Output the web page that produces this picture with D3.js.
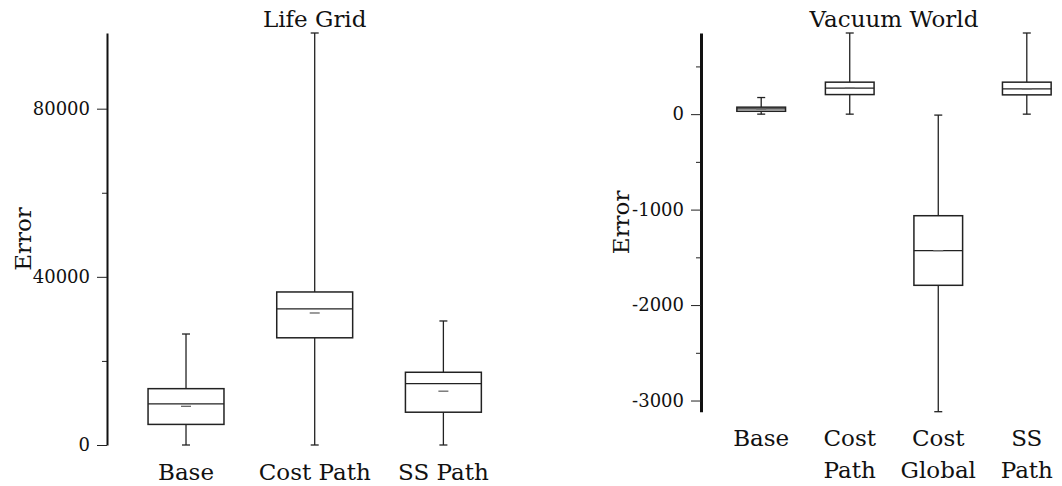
<!DOCTYPE html>
<html>
<head>
<meta charset="utf-8">
<script src="https://cdn.jsdelivr.net/npm/d3@7"></script>
<style>
  html, body { margin: 0; padding: 0; background: #fff; }
  svg { display: block; font-family: "DejaVu Serif", serif; }
</style>
</head>
<body>
<svg id="chart" width="1062" height="486"></svg>
<script>
// Life Grid: error distribution per method
const lifeCategories = ["Base", "Cost Path", "SS Path"];
const lifeMin    = [0, 0, 0];
const lifeQ1     = [4900, 25500, 7800];
const lifeMedian = [9800, 32400, 14600];
const lifeQ3     = [13400, 36400, 17300];
const lifeMax    = [26400, 98000, 29500];
const lifeMean   = [9200, 31400, 12800];
const lifeMajorTicks = [0, 40000, 80000];
const lifeMinorTicks = [20000, 60000];

// Vacuum World: error distribution per method
const vacCategories = ["Base", "Cost Path", "Cost Global", "SS Path"];
const vacLabelLines = [["Base"], ["Cost", "Path"], ["Cost", "Global"], ["SS", "Path"]];
const vacMin    = [0, 0, -3117, 0];
const vacQ1     = [30, 205, -1793, 202];
const vacMedian = [55, 272, -1430, 265];
const vacQ3     = [73, 335, -1064, 335];
const vacMax    = [174, 850, -10, 850];
const vacMean   = [55, 272, -1430, 265];
const vacMajorTicks = [0, -1000, -2000, -3000];
const vacMinorTicks = [500, -500, -1500, -2500];

const svg = d3.select("#chart");

function drawPanel(cfg) {
  const g = svg.append("g");
  const x = d3.scalePoint().domain(cfg.categories)
    .range([cfg.left, cfg.right]).padding(cfg.padding);
  const y = d3.scaleLinear().domain(cfg.domain).range([cfg.bottom, cfg.top]);
  const boxW = x.step() * cfg.boxFrac;
  const capW = 8;

  // minor ticks
  g.append("g")
    .attr("transform", `translate(${cfg.left},0)`)
    .call(d3.axisLeft(y).tickValues(cfg.minor).tickSize(5).tickSizeOuter(0).tickFormat(""))
    .call(a => a.select(".domain").remove())
    .call(a => a.selectAll("line").attr("stroke", "#222").attr("stroke-width", 1));

  // major ticks with labels and the axis line (plain hyphen for negatives)
  g.append("g")
    .attr("transform", `translate(${cfg.left},0)`)
    .call(d3.axisLeft(y).tickValues(cfg.major).tickSize(10).tickSizeOuter(0).tickPadding(7).tickFormat(d => String(d)))
    .call(a => a.select(".domain").attr("stroke", "#111").attr("stroke-width", cfg.axisWidth))
    .call(a => a.selectAll(".tick line").attr("stroke", "#222").attr("stroke-width", 1))
    .call(a => a.selectAll("text").attr("font-family", "DejaVu Serif").attr("font-size", 18).attr("fill", "#111"));

  const data = cfg.categories.map((c, i) => ({
    c, min: cfg.min[i], q1: cfg.q1[i], med: cfg.median[i], q3: cfg.q3[i], max: cfg.max[i], mean: cfg.mean[i]
  }));

  const box = g.selectAll("g.box").data(data).join("g").attr("class", "box");
  const stroke = "#222";

  // whiskers
  box.append("line")
    .attr("x1", d => x(d.c)).attr("x2", d => x(d.c))
    .attr("y1", d => y(d.q3)).attr("y2", d => y(d.max))
    .attr("stroke", stroke).attr("stroke-width", 1.3);
  box.append("line")
    .attr("x1", d => x(d.c)).attr("x2", d => x(d.c))
    .attr("y1", d => y(d.q1)).attr("y2", d => y(d.min))
    .attr("stroke", stroke).attr("stroke-width", 1.3);
  // caps
  box.append("line")
    .attr("x1", d => x(d.c) - capW / 2).attr("x2", d => x(d.c) + capW / 2)
    .attr("y1", d => y(d.max)).attr("y2", d => y(d.max))
    .attr("stroke", stroke).attr("stroke-width", 1.3);
  box.append("line")
    .attr("x1", d => x(d.c) - capW / 2).attr("x2", d => x(d.c) + capW / 2)
    .attr("y1", d => y(d.min)).attr("y2", d => y(d.min))
    .attr("stroke", stroke).attr("stroke-width", 1.3);
  // box
  box.append("rect")
    .attr("x", d => x(d.c) - boxW / 2).attr("width", boxW)
    .attr("y", d => y(d.q3)).attr("height", d => y(d.q1) - y(d.q3))
    .attr("fill", "#fff").attr("stroke", stroke).attr("stroke-width", 1.5);
  // median
  box.append("line")
    .attr("x1", d => x(d.c) - boxW / 2).attr("x2", d => x(d.c) + boxW / 2)
    .attr("y1", d => y(d.med)).attr("y2", d => y(d.med))
    .attr("stroke", stroke).attr("stroke-width", 1.3);
  // mean marker
  box.append("line")
    .attr("x1", d => x(d.c) - 5).attr("x2", d => x(d.c) + 5)
    .attr("y1", d => y(d.mean)).attr("y2", d => y(d.mean))
    .attr("stroke", "#666").attr("stroke-width", 1.3);

  // category labels
  const lab = g.selectAll("text.cat").data(cfg.categories).join("text")
    .attr("class", "cat")
    .attr("x", d => x(d))
    .attr("y", cfg.bottom + cfg.labelOffset)
    .attr("text-anchor", "middle")
    .attr("font-size", 23).attr("fill", "#111");
  lab.each(function(d, i) {
    const lines = cfg.labelLines ? cfg.labelLines[i] : [d];
    d3.select(this).selectAll("tspan").data(lines).join("tspan")
      .attr("x", x(d))
      .attr("dy", (t, j) => j === 0 ? 0 : 32)
      .text(t => t);
  });

  // title
  g.append("text")
    .attr("x", (cfg.left + cfg.right) / 2)
    .attr("y", 27)
    .attr("text-anchor", "middle")
    .attr("font-size", 23).attr("fill", "#111")
    .text(cfg.title);

  // y label
  g.append("text")
    .attr("transform", `translate(${cfg.yLabelX},${(cfg.top + cfg.bottom) / 2}) rotate(-90)`)
    .attr("text-anchor", "middle")
    .attr("font-size", 23).attr("fill", "#111")
    .text("Error");
}

drawPanel({
  title: "Life Grid",
  categories: lifeCategories,
  min: lifeMin, q1: lifeQ1, median: lifeMedian, q3: lifeQ3, max: lifeMax, mean: lifeMean,
  major: lifeMajorTicks, minor: lifeMinorTicks,
  domain: [0, 98000],
  left: 107, right: 522.4, padding: 0.614, boxFrac: 0.59,
  top: 33, bottom: 445, labelOffset: 35,
  axisWidth: 2, yLabelX: 31
});

drawPanel({
  title: "Vacuum World",
  categories: vacCategories, labelLines: vacLabelLines,
  min: vacMin, q1: vacQ1, median: vacMedian, q3: vacQ3, max: vacMax, mean: vacMean,
  major: vacMajorTicks, minor: vacMinorTicks,
  domain: [-3117, 850],
  left: 701, right: 1087, padding: 0.68, boxFrac: 0.55,
  top: 33, bottom: 411.7, labelOffset: 34.5,
  axisWidth: 3, yLabelX: 629
});
</script>
</body>
</html>
